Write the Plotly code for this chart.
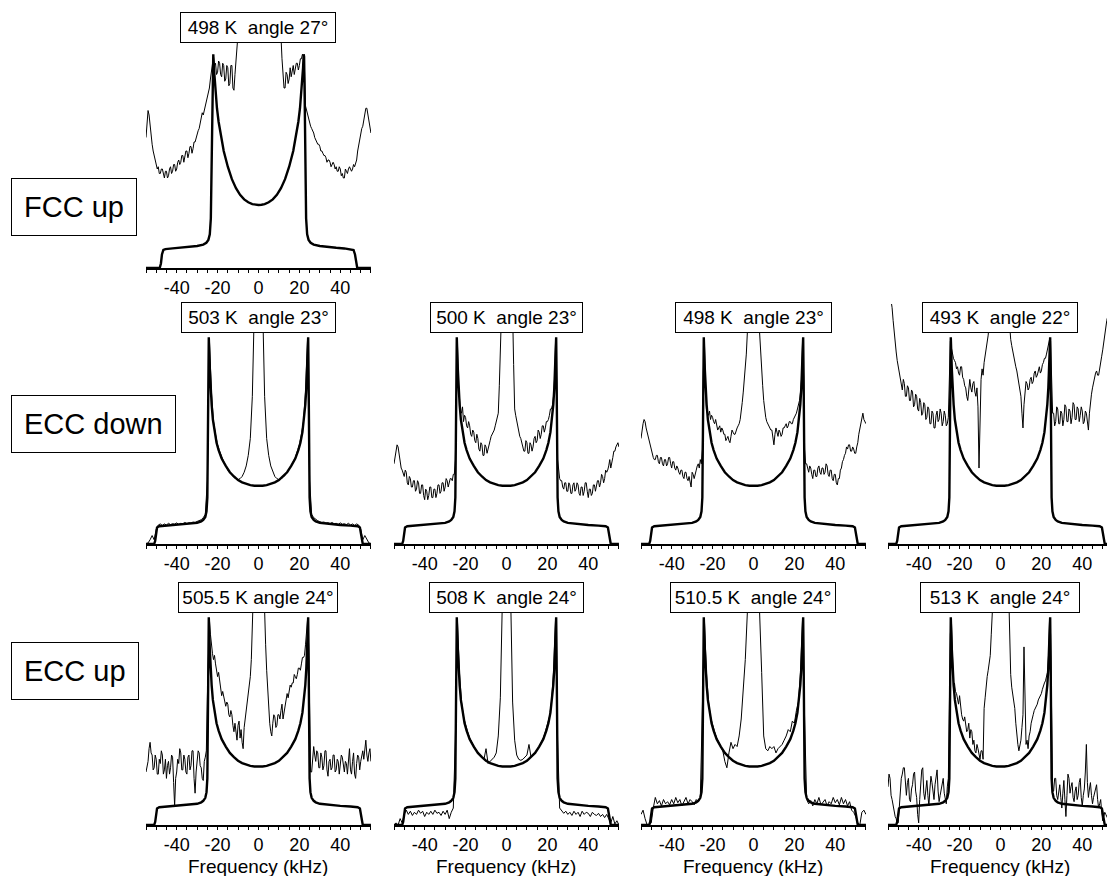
import plotly.graph_objects as go

# ---------------- data (intensity in % of the horn height, frequency in kHz) ----------------
FREQ_GRID = [-55, -54, -53, -52, -51, -50, -49, -48, -47, -46,
             -45, -44, -43, -42, -41, -40, -39, -38, -37, -36,
             -35, -34, -33, -32, -31, -30, -29, -28, -27, -26,
             -25, -24, -23, -22, -21, -20, -19, -18, -17, -16,
             -15, -14, -13, -12, -11, -10, -9, -8, -7, -6,
             -5, -4, -3, -2, -1, 0, 1, 2, 3, 4,
             5, 6, 7, 8, 9, 10, 11, 12, 13, 14,
             15, 16, 17, 18, 19, 20, 21, 22, 23, 24,
             25, 26, 27, 28, 29, 30, 31, 32, 33, 34,
             35, 36, 37, 38, 39, 40, 41, 42, 43, 44,
             45, 46, 47, 48, 49, 50, 51, 52, 53, 54, 55]

FREQ_GRID_FINE = [
    -55, -54.5, -54, -53.5, -53, -52.5, -52, -51.5, -51, -50.5, -50, -49.5, -49, -48.5, -48, -47.5, -47, -46.5, -46, -45.5,
    -45, -44.5, -44, -43.5, -43, -42.5, -42, -41.5, -41, -40.5, -40, -39.5, -39, -38.5, -38, -37.5, -37, -36.5, -36, -35.5,
    -35, -34.5, -34, -33.5, -33, -32.5, -32, -31.5, -31, -30.5, -30, -29.5, -29, -28.5, -28, -27.5, -27, -26.5, -26, -25.5,
    -25, -24.5, -24, -23.5, -23, -22.5, -22, -21.5, -21, -20.5, -20, -19.5, -19, -18.5, -18, -17.5, -17, -16.5, -16, -15.5,
    -15, -14.5, -14, -13.5, -13, -12.5, -12, -11.5, -11, -10.5, -10, -9.5, -9, -8.5, -8, -7.5, -7, -6.5, -6, -5.5,
    -5, -4.5, -4, -3.5, -3, -2.5, -2, -1.5, -1, -0.5, 0, 0.5, 1, 1.5, 2, 2.5, 3, 3.5, 4, 4.5,
    5, 5.5, 6, 6.5, 7, 7.5, 8, 8.5, 9, 9.5, 10, 10.5, 11, 11.5, 12, 12.5, 13, 13.5, 14, 14.5,
    15, 15.5, 16, 16.5, 17, 17.5, 18, 18.5, 19, 19.5, 20, 20.5, 21, 21.5, 22, 22.5, 23, 23.5, 24, 24.5,
    25, 25.5, 26, 26.5, 27, 27.5, 28, 28.5, 29, 29.5, 30, 30.5, 31, 31.5, 32, 32.5, 33, 33.5, 34, 34.5,
    35, 35.5, 36, 36.5, 37, 37.5, 38, 38.5, 39, 39.5, 40, 40.5, 41, 41.5, 42, 42.5, 43, 43.5, 44, 44.5,
    45, 45.5, 46, 46.5, 47, 47.5, 48, 48.5, 49, 49.5, 50, 50.5, 51, 51.5, 52, 52.5, 53, 53.5, 54, 54.5,
    55]

# experimental spectra (thin lines)
EXP_FCC_498K = [
    58, 63, 70, 68, 63, 58, 55, 52, 50, 47, 46, 44, 45, 42, 42, 44, 44, 41, 40, 43,
    43, 40, 41, 44, 45, 42, 43, 46, 46, 43, 44, 47, 48, 46, 47, 50, 50, 47, 49, 52,
    52, 49, 51, 54, 54, 51, 53, 56, 56, 58, 59, 61, 62, 64, 66, 69, 68, 70, 72, 75,
    77, 79, 80, 84, 88, 92, 94, 90, 91, 86, 87, 92, 91, 86, 85, 91, 90, 83, 84, 90,
    89, 81, 82, 90, 90, 80, 79, 86, 92, 98, 104, 115, 130, 140, 150, 155, 160, 165, 170, 172,
    175, 178, 180, 182, 185, 188, 190, 190, 190, 190, 190, 190, 190, 190, 190, 188, 185, 182, 180, 178,
    175, 172, 170, 167, 165, 162, 160, 155, 150, 140, 130, 115, 103, 93, 88, 80, 80, 87, 86, 82,
    84, 89, 85, 88, 90, 86, 88, 91, 91, 88, 90, 93, 93, 95, 94, 88, 72, 70, 68, 67,
    65, 63, 62, 61, 60, 58, 57, 56, 55, 55, 54, 52, 52, 51, 50, 50, 49, 47, 48, 48,
    47, 45, 46, 47, 46, 44, 45, 43, 43, 45, 44, 41, 42, 40, 40, 44, 43, 42, 44, 45,
    44, 43, 44, 46, 45, 47, 48, 52, 55, 58, 60, 62, 63, 66, 68, 71, 71, 68, 66, 63,
    60]

EXP_ECCD_503K = [0, 0.5, 2, 4, 2, 7, 9, 9.5, 8.8, 9.5,
                 9, 9.8, 9.2, 9.6, 9.4, 10, 9.3, 9.8, 9.6, 10.2,
                 9.7, 10.1, 10, 10.4, 10.3, 10.6, 11, 11.5, 12.5, 14,
                 30, 97, 72, 58, 52, 47, 44, 41, 39, 37,
                 35, 34, 32.5, 31.5, 31, 30.5, 31, 32, 34, 37,
                 42, 50, 70, 105, 160, 200, 160, 105, 70, 50,
                 42, 37, 34, 32, 31, 30.5, 31, 31.5, 32.5, 34,
                 35, 37, 39, 41, 44, 47, 52, 58, 72, 97,
                 30, 14, 12.5, 11.5, 11, 10.6, 10.3, 10.4, 10, 10.1,
                 9.7, 10.2, 9.6, 9.8, 9.3, 10, 9.4, 9.6, 9.2, 9.8,
                 9, 9.5, 8.8, 9.5, 9, 7, 2, 4, 2, 0.5, 0]

EXP_ECCD_500K = [
    38, 41, 44, 47, 46, 42, 40, 36, 35, 33, 32, 35, 34, 29, 28, 32, 31, 27, 27, 30,
    30, 25, 26, 30, 29, 24, 24, 28, 28, 23, 21, 26, 25, 21, 23, 27, 27, 22, 22, 26,
    26, 22, 24, 28, 28, 24, 25, 29, 29, 25, 27, 31, 30, 27, 29, 31, 31, 30, 33, 33,
    40, 80, 96, 76, 66, 63, 62, 65, 58, 61, 60, 56, 55, 58, 56, 52, 51, 54, 53, 49,
    48, 52, 50, 45, 44, 48, 47, 42, 42, 47, 46, 43, 45, 48, 49, 51, 52, 53, 54, 56,
    58, 60, 62, 75, 100, 125, 150, 165, 180, 185, 190, 185, 180, 165, 150, 130, 110, 85, 64, 61,
    58, 56, 54, 51, 50, 48, 47, 44, 44, 49, 48, 43, 43, 48, 47, 44, 46, 50, 51, 48,
    49, 54, 53, 50, 52, 56, 56, 53, 55, 58, 58, 59, 61, 64, 64, 66, 70, 78, 96, 78,
    40, 33, 31, 30, 30, 27, 26, 29, 29, 25, 25, 29, 28, 24, 24, 28, 29, 25, 26, 29,
    28, 24, 23, 27, 27, 23, 25, 29, 29, 25, 22, 26, 26, 23, 24, 28, 28, 25, 27, 30,
    30, 27, 29, 33, 32, 29, 31, 35, 34, 35, 37, 40, 36, 38, 41, 44, 44, 46, 47, 48,
    46]

EXP_ECCD_498K = [
    50, 54, 57, 59, 58, 55, 53, 50, 48, 46, 44, 42, 41, 40, 40, 42, 42, 39, 38, 41,
    41, 38, 37, 40, 40, 37, 38, 41, 41, 38, 36, 39, 39, 36, 35, 37, 36, 34, 33, 35,
    35, 32, 31, 34, 34, 31, 30, 32, 29, 27, 34, 33, 31, 34, 35, 37, 38, 36, 40, 38,
    45, 82, 96, 75, 64, 62, 61, 63, 59, 61, 60, 58, 57, 59, 56, 54, 55, 56, 53, 55,
    54, 52, 52, 49, 50, 51, 49, 48, 51, 54, 53, 52, 52, 54, 55, 56, 57, 59, 62, 67,
    72, 77, 82, 90, 100, 125, 150, 165, 180, 185, 190, 185, 180, 165, 150, 125, 100, 90, 82, 75,
    68, 63, 60, 58, 57, 56, 55, 54, 54, 51, 47, 52, 55, 53, 51, 54, 53, 51, 52, 55,
    55, 56, 57, 55, 56, 58, 58, 57, 57, 59, 60, 61, 62, 64, 66, 68, 72, 78, 96, 80,
    45, 38, 38, 35, 34, 37, 36, 33, 31, 35, 35, 32, 32, 36, 37, 34, 33, 36, 36, 33,
    34, 38, 37, 33, 32, 35, 35, 31, 30, 33, 33, 29, 28, 31, 31, 35, 36, 39, 40, 42,
    43, 46, 45, 47, 47, 44, 44, 46, 45, 43, 43, 46, 48, 52, 55, 58, 60, 62, 59, 58,
    57]

EXP_ECCD_493K = [
    125, 122, 120, 116, 112, 106, 100, 95, 91, 87, 84, 80, 79, 74, 73, 78, 76, 70, 70, 75,
    74, 68, 68, 73, 72, 65, 66, 71, 70, 64, 63, 69, 67, 61, 62, 67, 66, 59, 60, 65,
    64, 57, 57, 63, 62, 55, 55, 61, 63, 58, 59, 64, 62, 56, 58, 63, 61, 56, 57, 60,
    80, 96, 93, 90, 88, 87, 86, 83, 84, 81, 80, 84, 84, 79, 78, 75, 74, 70, 68, 73,
    78, 74, 72, 76, 77, 72, 70, 74, 65, 36, 60, 78, 83, 80, 86, 89, 92, 95, 99, 105,
    120, 135, 150, 160, 170, 175, 180, 183, 185, 185, 185, 185, 180, 175, 170, 160, 150, 130, 110, 100,
    97, 94, 91, 89, 87, 84, 82, 79, 76, 73, 70, 62, 55, 66, 72, 77, 76, 73, 74, 78,
    79, 76, 77, 81, 82, 79, 80, 83, 84, 81, 82, 85, 86, 88, 88, 90, 93, 95, 97, 96,
    80, 62, 62, 56, 58, 65, 64, 57, 57, 63, 62, 56, 59, 66, 65, 58, 58, 64, 63, 57,
    60, 67, 66, 59, 59, 65, 64, 58, 61, 65, 63, 57, 58, 63, 62, 56, 54, 62, 68, 71,
    74, 77, 78, 81, 82, 80, 80, 84, 86, 89, 92, 96, 100, 103, 106, 108, 110, 111, 112, 114,
    115]

EXP_ECCU_505_5K = [
    25, 28, 30, 36, 39, 34, 33, 26, 27, 33, 31, 24, 24, 31, 29, 35, 33, 24, 26, 31,
    22, 28, 30, 24, 27, 33, 32, 20, 9, 22, 25, 31, 29, 36, 34, 26, 26, 33, 31, 25,
    24, 32, 33, 26, 28, 35, 35, 22, 15, 25, 30, 35, 34, 28, 27, 22, 21, 30, 32, 35,
    60, 85, 97, 90, 84, 81, 78, 80, 76, 72, 70, 72, 69, 64, 61, 63, 60, 57, 56, 58,
    57, 52, 51, 54, 52, 47, 44, 48, 43, 40, 47, 49, 41, 45, 39, 36, 46, 50, 54, 57,
    60, 64, 70, 78, 90, 110, 130, 150, 170, 180, 190, 180, 170, 150, 130, 115, 100, 85, 73, 62,
    55, 48, 44, 42, 48, 52, 51, 46, 47, 52, 52, 50, 54, 57, 50, 53, 57, 61, 62, 60,
    63, 66, 65, 67, 67, 71, 70, 69, 71, 74, 74, 73, 76, 79, 79, 80, 85, 90, 97, 85,
    40, 25, 25, 32, 37, 33, 30, 35, 34, 27, 27, 34, 32, 26, 28, 35, 35, 26, 23, 30,
    31, 26, 27, 33, 33, 25, 26, 31, 30, 24, 28, 33, 32, 27, 25, 30, 29, 24, 31, 36,
    26, 24, 30, 34, 24, 22, 29, 33, 32, 26, 30, 33, 35, 31, 37, 40, 33, 30, 34, 36,
    30]

EXP_ECCU_508K = [0, 1, 0, 3, 1, 5, 7, 5, 6.5, 4.5,
                 6, 5, 7, 5.5, 6.5, 4, 6, 5, 6.5, 5,
                 7, 5.5, 6, 4.5, 6.5, 5, 7, 3, 6, 8,
                 40, 97, 72, 58, 51, 47, 44, 41, 39, 37,
                 35.5, 34, 33, 32, 31, 36, 29, 30, 31, 32,
                 34, 42, 60, 110, 180, 200, 180, 110, 58, 40,
                 33, 31, 30.5, 31, 32, 33, 38, 32, 33, 34,
                 35.5, 37, 39, 41, 44, 47, 51, 58, 72, 97,
                 40, 8, 7, 5.5, 6.5, 5, 6, 4.5, 6.5, 5,
                 6, 4, 6.5, 5, 6, 5.5, 4, 6, 5, 4.5,
                 5.5, 4, 5, 3.5, 5, 3, 1, 4, 0.5, 2, 0]

EXP_ECCU_510_5K = [5, 7, 3, 0, 0, 1, 8, 13, 10, 11.5,
                   9, 12, 10, 11, 9.5, 12, 10, 13, 10.5, 12,
                   9, 11, 13, 10, 12, 11, 9.5, 12, 11, 13,
                   50, 97, 72, 58, 51, 47, 44, 41, 39, 37,
                   35, 30, 27, 34, 39, 36, 38, 37, 42, 50,
                   62, 78, 100, 150, 180, 190, 180, 150, 100, 72,
                   42, 36, 35, 37, 36, 37, 34, 36, 37, 38,
                   40, 42, 45, 44, 49, 48, 54, 58, 72, 97,
                   50, 12, 10, 11.5, 9, 12, 10, 13, 9.5, 11,
                   12, 9, 11, 10, 13, 10.5, 12, 9.5, 13, 10,
                   12, 9, 11, 7, 6, 4, 1, 0, 6, 7, 5]

EXP_ECCU_513K = [
    18, 24, 22, 14, 12, 9, 8, 4, 3, 1, 1, 10, 16, 22, 24, 27, 27, 18, 14, 20,
    22, 12, 11, 17, 19, 24, 25, 16, 13, 5, 1, 12, 20, 26, 27, 15, 12, 18, 21, 14,
    9, 17, 23, 20, 14, 12, 19, 24, 26, 16, 11, 14, 17, 21, 22, 15, 13, 10, 18, 22,
    55, 90, 97, 80, 65, 67, 63, 62, 60, 57, 61, 55, 52, 50, 49, 51, 47, 44, 45, 48,
    41, 45, 44, 38, 40, 35, 34, 38, 36, 33, 31, 35, 35, 31, 55, 60, 66, 70, 73, 77,
    80, 90, 100, 125, 150, 165, 180, 185, 190, 190, 190, 190, 190, 185, 180, 165, 150, 130, 110, 90,
    71, 65, 62, 58, 55, 48, 42, 38, 35, 37, 40, 46, 52, 84, 48, 38, 40, 36, 42, 44,
    48, 51, 52, 54, 55, 56, 57, 59, 60, 61, 62, 64, 66, 67, 68, 70, 72, 80, 97, 90,
    40, 16, 16, 22, 22, 14, 12, 17, 19, 13, 8, 15, 21, 12, 4, 14, 24, 22, 15, 18,
    20, 13, 11, 16, 18, 12, 14, 20, 22, 13, 9, 14, 17, 25, 38, 20, 13, 17, 20, 14,
    10, 13, 15, 18, 19, 12, 8, 10, 12, 6, 2, 4, 6, 5, 4, 3, 3, 2, 2, 1,
    1]

# simulated powder patterns (thick lines)
SIM_FCC_FREQ = [-55, -48.3, -47.7, -47.2, -46.5, -45.5, -42, -38, -34, -30,
                -27, -25.5, -24.5, -23.8, -23.3, -22.9, -22.6, -22.3, -22.1, -21.8,
                -21.4, -20.9, -20.3, -19.5, -18.5, -17, -15, -13, -11, -9,
                -7, -5, -3, -1.5, 0,
                1.5, 3, 5, 7, 9, 11, 13, 15, 17, 18.5,
                19.5, 20.3, 20.9, 21.4, 21.8, 22.1, 22.3, 22.6, 22.9, 23.3,
                23.8, 24.5, 25.5, 27, 30, 34, 38, 42, 45.5, 46.5,
                47.2, 47.7, 48.3, 55]
SIM_FCC_INT = [0, 0, 2, 6, 8, 8.4, 8.7, 9.0, 9.3, 9.8,
               10.4, 11.2, 12.5, 15, 22, 45, 75, 94, 95, 89,
               83, 77, 71, 65, 59, 52, 45, 39.5, 35.5, 32.5,
               30.5, 29.2, 28.4, 28.1, 28,
               28.1, 28.4, 29.2, 30.5, 32.5, 35.5, 39.5, 45, 52, 59,
               65, 71, 77, 83, 89, 95, 94, 75, 45, 22,
               15, 12.5, 11.2, 10.4, 9.8, 9.3, 9.0, 8.7, 8.4, 8,
               6, 2, 0, 0]

SIM_ECC_FREQ = [-55, -51, -50.5, -50.1, -49.6, -48.5, -45, -40, -35, -30,
                -28, -27, -26, -25.4, -25.0, -24.7, -24.5, -24.3, -24.1, -23.8,
                -23.4, -22.9, -22.3, -21.5, -20.5, -19.5, -18, -16, -14, -12,
                -10, -8, -6, -4, -2, 0,
                2, 4, 6, 8, 10, 12, 14, 16, 18, 19.5,
                20.5, 21.5, 22.3, 22.9, 23.4, 23.8, 24.1, 24.3, 24.5, 24.7,
                25.0, 25.4, 26, 27, 28, 30, 35, 40, 45, 48.5,
                49.6, 50.1, 50.5, 51, 55]
SIM_ECC_INT = [0, 0, 1.5, 5, 7.8, 8.4, 8.7, 9.0, 9.4, 10.0,
               10.7, 11.4, 12.8, 15.5, 22, 45, 80, 98, 92, 83,
               74, 66, 59, 53, 48, 44.5, 40.5, 37, 34, 32,
               30.3, 29.2, 28.4, 27.9, 27.6, 27.5,
               27.6, 27.9, 28.4, 29.2, 30.3, 32, 34, 37, 40.5, 44.5,
               48, 53, 59, 66, 74, 83, 92, 98, 80, 45,
               22, 15.5, 12.8, 11.4, 10.7, 10.0, 9.4, 9.0, 8.7, 8.4,
               7.8, 5, 1.5, 0, 0]

PANEL_TITLES = ["498 K\u00a0 angle 27°",
                "503 K\u00a0 angle 23°", "500 K\u00a0 angle 23°",
                "498 K\u00a0 angle 23°", "493 K\u00a0 angle 22°",
                "505.5 K angle 24°", "508 K\u00a0 angle 24°",
                "510.5 K\u00a0 angle 24°", "513 K\u00a0 angle 24°"]
ROW_LABELS = ["FCC up", "ECC down", "ECC up"]
TICK_VALUES = [-55, -50, -45, -40, -35, -30, -25, -20, -15, -10, -5, 0,
               5, 10, 15, 20, 25, 30, 35, 40, 45, 50, 55]
TICK_LABELS = ["", "", "", "-40", "", "", "", "-20", "", "", "", "0",
               "", "", "", "20", "", "", "", "40", "", "", ""]
X_LABEL = "Frequency (kHz)"

EXPERIMENTS = [(FREQ_GRID_FINE, EXP_FCC_498K), (FREQ_GRID, EXP_ECCD_503K),
               (FREQ_GRID_FINE, EXP_ECCD_500K), (FREQ_GRID_FINE, EXP_ECCD_498K),
               (FREQ_GRID_FINE, EXP_ECCD_493K), (FREQ_GRID_FINE, EXP_ECCU_505_5K),
               (FREQ_GRID, EXP_ECCU_508K), (FREQ_GRID, EXP_ECCU_510_5K),
               (FREQ_GRID_FINE, EXP_ECCU_513K)]
for gx, gy in EXPERIMENTS:
    assert len(gx) == len(gy), (len(gx), len(gy))
assert len(SIM_FCC_FREQ) == len(SIM_FCC_INT)
assert len(SIM_ECC_FREQ) == len(SIM_ECC_INT)

# ---------------- layout (pixels) ----------------
W, H = 1107, 876
PX_PER_KHZ = 2.045
X_MIN = -55
COL_LEFT = [146, 394, 641, 888]
ROW_GEOM = {1: (268, 43, 12), 2: (544, 333, 304), 3: (825, 613, 583)}  # baseline, box bottom, box top
PANEL_POS = [(1, 0), (2, 0), (2, 1), (2, 2), (2, 3), (3, 0), (3, 1), (3, 2), (3, 3)]
BOX_WIDTHS = [156, 155, 153, 157, 156, 160, 155, 166, 160]
LABEL_CENTERS = [207, 424, 671]
FONT = "Liberation Sans, Arial, Helvetica, sans-serif"

fig = go.Figure()
annotations = []
for i, ((row, col), title, (gx, gy)) in enumerate(zip(PANEL_POS, PANEL_TITLES, EXPERIMENTS), start=1):
    sfx = "" if i == 1 else str(i)
    sim_x = SIM_FCC_FREQ if row == 1 else SIM_ECC_FREQ
    sim_y = SIM_FCC_INT if row == 1 else SIM_ECC_INT
    fig.add_trace(go.Scatter(x=gx, y=gy, mode="lines",
                             line=dict(color="black", width=1.0),
                             xaxis="x" + sfx, yaxis="y" + sfx,
                             showlegend=False, hoverinfo="skip"))
    fig.add_trace(go.Scatter(x=sim_x, y=sim_y, mode="lines",
                             line=dict(color="black", width=2.4),
                             xaxis="x" + sfx, yaxis="y" + sfx,
                             showlegend=False, hoverinfo="skip"))
    base, bbot, btop = ROW_GEOM[row]
    left = COL_LEFT[col]
    right = min(left + 110 * PX_PER_KHZ, W)
    x_max = X_MIN + (right - left) / PX_PER_KHZ
    y_top = 100 * (base - btop) / (base - bbot)
    fig.layout["xaxis" + sfx] = dict(
        domain=[left / W, right / W], range=[X_MIN, x_max],
        anchor="y" + sfx, showline=True, linecolor="black", linewidth=1.5,
        ticks="outside", ticklen=3, tickwidth=1, tickcolor="black",
        tickvals=TICK_VALUES, ticktext=TICK_LABELS,
        tickfont=dict(family=FONT, size=18, color="black"),
        showgrid=False, zeroline=False, fixedrange=True)
    fig.layout["yaxis" + sfx] = dict(
        domain=[(H - base) / H, (H - btop) / H], range=[0, y_top],
        anchor="x" + sfx, visible=False, showgrid=False, zeroline=False,
        fixedrange=True)
    annotations.append(dict(
        text=title, x=0, y=100, xref="x" + sfx, yref="y" + sfx,
        xanchor="center", yanchor="bottom", showarrow=False,
        font=dict(family=FONT, size=19, color="black"),
        bgcolor="white", bordercolor="black", borderwidth=1, borderpad=4,
        width=BOX_WIDTHS[i - 1] - 10))
    if row == 3:
        annotations.append(dict(
            text=X_LABEL, x=0, y=(H - 866) / H, xref="x" + sfx, yref="paper",
            xanchor="center", yanchor="middle", showarrow=False,
            font=dict(family=FONT, size=19, color="black")))

for label, yc in zip(ROW_LABELS, LABEL_CENTERS):
    annotations.append(dict(
        text=label, x=11 / W, y=(H - yc) / H, xref="paper", yref="paper",
        xanchor="left", yanchor="middle", showarrow=False,
        font=dict(family=FONT, size=29, color="black"),
        bgcolor="white", bordercolor="black", borderwidth=1, borderpad=12))

fig.update_layout(width=W, height=H, margin=dict(l=0, r=0, t=0, b=0),
                  paper_bgcolor="white", plot_bgcolor="rgba(0,0,0,0)",
                  annotations=annotations, showlegend=False)

fig.write_html("out.html", config={"displayModeBar": False},
               post_script="document.body.style.margin='0px';document.body.style.overflow='hidden';")
